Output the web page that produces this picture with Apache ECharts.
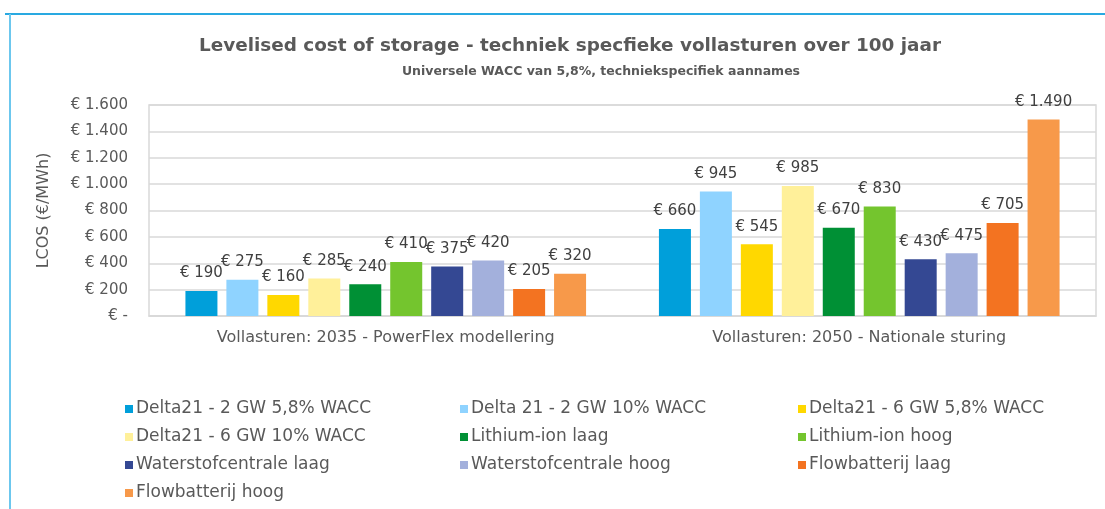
<!DOCTYPE html>
<html><head><meta charset="utf-8">
<script src="https://cdn.jsdelivr.net/npm/echarts@6/dist/echarts.min.js"></script>
<style>html,body{margin:0;padding:0;background:#fff}#c{width:1105px;height:509px}</style>
</head><body><div id="c"></div>
<script>
const categories = ['Vollasturen: 2035 - PowerFlex modellering', 'Vollasturen: 2050 - Nationale sturing'];
const seriesNames = ['Delta21 - 2 GW 5,8% WACC','Delta 21 - 2 GW 10% WACC','Delta21 - 6 GW 5,8% WACC','Delta21 - 6 GW 10% WACC','Lithium-ion laag','Lithium-ion hoog','Waterstofcentrale laag','Waterstofcentrale hoog','Flowbatterij laag','Flowbatterij hoog'];
const delta2gw58 = [190, 660];
const delta2gw10 = [275, 945];
const delta6gw58 = [160, 545];
const delta6gw10 = [285, 985];
const lithiumLaag = [240, 670];
const lithiumHoog = [410, 830];
const waterstofLaag = [375, 430];
const waterstofHoog = [420, 475];
const flowLaag = [205, 705];
const flowHoog = [320, 1490];
const seriesValues = [delta2gw58, delta2gw10, delta6gw58, delta6gw10, lithiumLaag, lithiumHoog, waterstofLaag, waterstofHoog, flowLaag, flowHoog];
const colors = ['#009FDA','#8FD3FF','#FFD800','#FFF09A','#009035','#74C52E','#344893','#A3B0DC','#F37321','#F7994A'];

function euro(v){
  if (v === 0) return '€ -';
  return '€ ' + String(v).replace(/\B(?=(\d{3})+(?!\d))/g, '.');
}
const FONT = 'DejaVu Sans';
const chart = echarts.init(document.getElementById('c'));
const legendCols = [[0,3,6,9],[1,4,7],[2,5,8]];
const legendLeft = [120, 455, 793];
chart.setOption({
  animation: false,
  color: colors,
  title: [{
    text: 'Levelised cost of storage - techniek specfieke vollasturen over 100 jaar',
    left: 565, top: 32, textAlign: 'center',
    textStyle: {fontFamily: FONT, fontSize: 18.4, fontWeight: 'bold', color: '#595959'}
  },{
    text: 'Universele WACC van 5,8%, techniekspecifiek aannames',
    left: 596, top: 60, textAlign: 'center',
    textStyle: {fontFamily: FONT, fontSize: 12.5, fontWeight: 'bold', color: '#595959'}
  }],
  graphic: [
    {type:'line', shape:{x1:5, y1:14, x2:1105, y2:14}, style:{stroke:'#29A9E1', lineWidth:2}},
    {type:'line', shape:{x1:10, y1:14, x2:10, y2:509}, style:{stroke:'#6CC7EE', lineWidth:2}}
  ],
  legend: legendCols.map((col, i) => ({
    orient: 'vertical', left: legendLeft[i], top: 395,
    itemWidth: 8, itemHeight: 8, itemGap: 10, icon: 'rect',
    data: col.map(k => seriesNames[k]),
    textStyle: {fontFamily: FONT, fontSize: 17, lineHeight: 18, color: '#595959', padding: [0,0,0,-2]}
  })),
  grid: {left: 149, right: 9, top: 105, bottom: 193, show: true, borderColor: '#D9D9D9', borderWidth: 1.5},
  xAxis: {
    type: 'category', data: categories,
    axisLine: {lineStyle: {color: '#D9D9D9', width: 1.5}},
    axisTick: {show: false},
    axisLabel: {fontFamily: FONT, fontSize: 16, color: '#595959', margin: 14}
  },
  yAxis: {
    type: 'value', min: 0, max: 1600, interval: 200,
    name: 'LCOS (€/MWh)', nameLocation: 'middle', nameGap: 97, nameRotate: 90,
    nameTextStyle: {fontFamily: FONT, fontSize: 16, color: '#595959'},
    axisLabel: {formatter: euro, fontFamily: FONT, fontSize: 15, color: '#595959', margin: 21},
    splitLine: {lineStyle: {color: '#D9D9D9', width: 1.5}}
  },
  series: seriesValues.map((vals, i) => ({
    type: 'bar', name: seriesNames[i], data: vals,
    barWidth: 32, barGap: '28%',
    itemStyle: {color: colors[i]},
    label: {show: true, position: 'top', distance: 10, formatter: p => euro(p.value),
      fontFamily: FONT, fontSize: 15, color: '#404040'}
  }))
});
</script></body></html>
